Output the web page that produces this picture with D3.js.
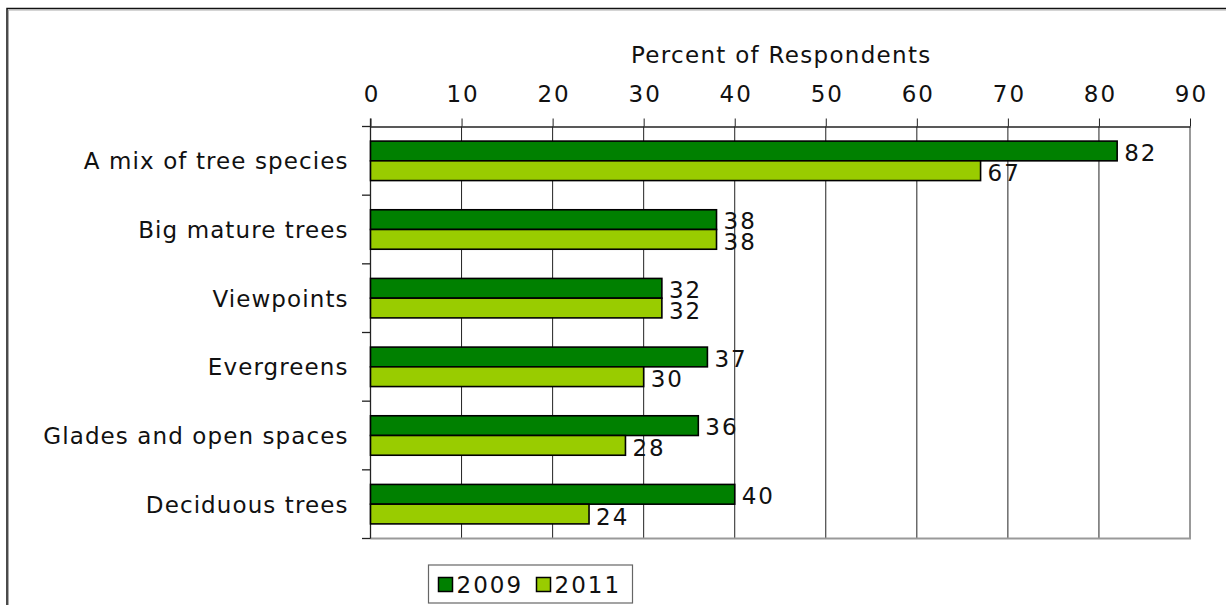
<!DOCTYPE html>
<html>
<head>
<meta charset="utf-8">
<script src="https://cdn.jsdelivr.net/npm/d3@7"></script>
<style>
  html, body { margin: 0; padding: 0; background: #fff; }
  svg { display: block; font-family: "DejaVu Sans", Verdana, sans-serif; }
</style>
</head>
<body>
<svg id="chart" width="1226" height="605"></svg>
<script>
// Survey answers: which woodland features respondents value
const categories = [
  "A mix of tree species",
  "Big mature trees",
  "Viewpoints",
  "Evergreens",
  "Glades and open spaces",
  "Deciduous trees"
];
const seriesNames = ["2009", "2011"];
const values2009 = [82, 38, 32, 37, 36, 40];
const values2011 = [67, 38, 32, 30, 28, 24];
const xTicks = [0, 10, 20, 30, 40, 50, 60, 70, 80, 90];
const axisTitle = "Percent of Respondents";
const colors = ["#008000", "#99CC00"];

const svg = d3.select("#chart");
const fontSize = 23;
const wordSpacing = 1.1;   // letter-spacing for words
const digitSpacing = 2.0;  // letter-spacing for numbers

const plot = { left: 370.5, right: 1190, top: 126.5, bottom: 538.5 };

// outer chart frame (runs off the right and bottom edges)
svg.append("path")
  .attr("d", "M7,620 V8.5 H1240")
  .attr("fill", "none")
  .attr("stroke", "#111")
  .attr("stroke-width", 1.5);
svg.append("path")
  .attr("d", "M8.5,620 V10 H1240")
  .attr("fill", "none")
  .attr("stroke", "#aaa")
  .attr("stroke-width", 1);

const x = d3.scaleLinear().domain([0, 90]).range([plot.left, plot.right]);
const y = d3.scaleBand().domain(categories).range([plot.top, plot.bottom]).padding(0);
const ySub = d3.scaleBand().domain(seriesNames)
  .range([0, y.bandwidth()]).paddingInner(0).paddingOuter(0.74);

// vertical grid lines
svg.append("g")
  .selectAll("line")
  .data(xTicks.slice(1, -1))
  .join("line")
  .attr("x1", d => x(d)).attr("x2", d => x(d))
  .attr("y1", plot.top).attr("y2", plot.bottom)
  .attr("stroke", "#222").attr("stroke-width", 1);

// plot area right/bottom border
svg.append("path")
  .attr("d", `M${plot.right},${plot.top} V${plot.bottom} H${plot.left}`)
  .attr("fill", "none")
  .attr("stroke", "#999")
  .attr("stroke-width", 2);

// top value axis
const xAxis = svg.append("g")
  .attr("transform", `translate(0,${plot.top})`)
  .call(d3.axisTop(x).tickValues(xTicks).tickSize(8).tickPadding(17).tickSizeOuter(0));
xAxis.select(".domain").attr("stroke", "#222").attr("stroke-width", 1.3);
xAxis.selectAll(".tick line").attr("stroke", "#222");
xAxis.selectAll(".tick text")
  .attr("font-size", fontSize).attr("fill", "#111")
  .attr("font-family", "DejaVu Sans, Verdana, sans-serif")
  .attr("letter-spacing", digitSpacing)
  .attr("dx", digitSpacing / 2);

// extend the top axis line a little to the left
svg.append("line")
  .attr("x1", plot.left - 8.5).attr("x2", plot.left)
  .attr("y1", plot.top).attr("y2", plot.top)
  .attr("stroke", "#222").attr("stroke-width", 1.3);

// axis title
svg.append("text")
  .attr("x", (plot.left + plot.right) / 2 + 1)
  .attr("y", 63)
  .attr("text-anchor", "middle")
  .attr("font-size", fontSize)
  .attr("letter-spacing", 1.3)
  .attr("fill", "#111")
  .text(axisTitle);

// left category axis: labels at band centres
const yAxis = svg.append("g")
  .attr("transform", `translate(${plot.left},0)`)
  .call(d3.axisLeft(y).tickSize(0).tickPadding(23 - wordSpacing));
yAxis.select(".domain").remove();
yAxis.selectAll(".tick text")
  .attr("font-size", fontSize).attr("fill", "#111")
  .attr("font-family", "DejaVu Sans, Verdana, sans-serif")
  .attr("letter-spacing", wordSpacing)
  .attr("dy", "0.37em");

// left axis line and category boundary ticks
svg.append("line")
  .attr("x1", plot.left).attr("x2", plot.left)
  .attr("y1", plot.top - 8).attr("y2", plot.bottom)
  .attr("stroke", "#222").attr("stroke-width", 1.3);
const boundaries = categories.map(c => y(c)).slice(1).concat([plot.bottom]);
svg.append("g")
  .selectAll("line")
  .data(boundaries)
  .join("line")
  .attr("x1", plot.left - 8.5).attr("x2", plot.left)
  .attr("y1", d => d).attr("y2", d => d)
  .attr("stroke", "#222").attr("stroke-width", 1.3);

// bars
const rows = categories.map((c, i) => ({
  category: c,
  items: [
    { series: seriesNames[0], value: values2009[i] },
    { series: seriesNames[1], value: values2011[i] }
  ]
}));

const groups = svg.append("g")
  .selectAll("g")
  .data(rows)
  .join("g")
  .attr("transform", d => `translate(0,${y(d.category)})`);

groups.selectAll("rect")
  .data(d => d.items)
  .join("rect")
  .attr("x", x(0))
  .attr("y", d => ySub(d.series))
  .attr("width", d => x(d.value) - x(0))
  .attr("height", ySub.bandwidth())
  .attr("fill", (d, i) => colors[i])
  .attr("stroke", "#000")
  .attr("stroke-width", 1.6);

groups.selectAll("text")
  .data(d => d.items)
  .join("text")
  .attr("x", d => x(d.value) + 7)
  .attr("y", (d, i) => ySub(d.series) + ySub.bandwidth() / 2 + (i === 0 ? 1.5 : 2.5))
  .attr("dy", "0.36em")
  .attr("font-size", fontSize)
  .attr("letter-spacing", digitSpacing)
  .attr("fill", "#111")
  .text(d => d.value);

// legend
const legend = svg.append("g").attr("transform", "translate(428.5,565)");
legend.append("rect")
  .attr("width", 204).attr("height", 38)
  .attr("fill", "#fff").attr("stroke", "#666").attr("stroke-width", 1.2);
const legendX = [10, 108];
seriesNames.forEach((name, i) => {
  legend.append("rect")
    .attr("x", legendX[i]).attr("y", 12.5)
    .attr("width", 14).attr("height", 14)
    .attr("fill", colors[i]).attr("stroke", "#000").attr("stroke-width", 1.5);
  legend.append("text")
    .attr("x", legendX[i] + 18).attr("y", 20)
    .attr("dy", "0.36em")
    .attr("font-size", fontSize)
    .attr("letter-spacing", digitSpacing)
    .attr("fill", "#111")
    .text(name);
});
</script>
</body>
</html>
